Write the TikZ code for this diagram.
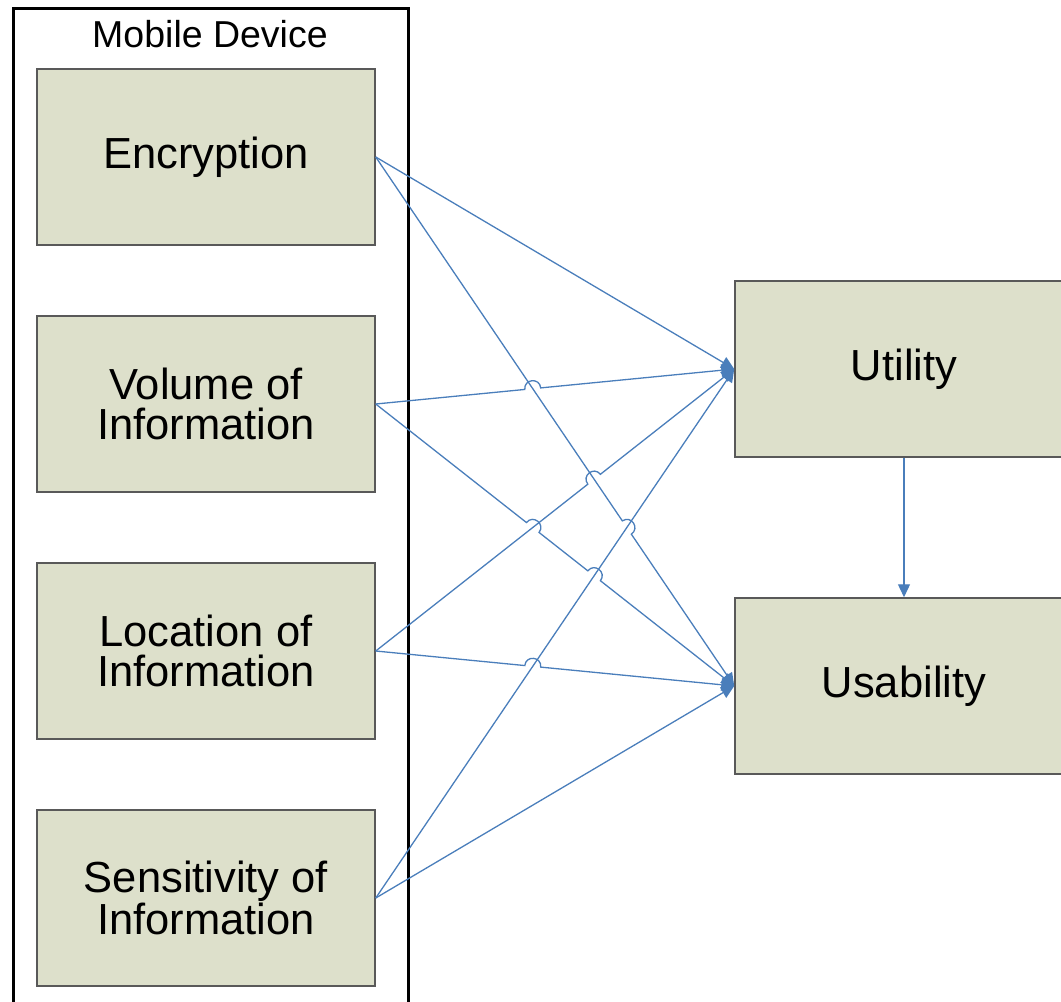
\documentclass[tikz,border=0pt]{standalone}
\usepackage{fontspec}
\setmainfont{Liberation Sans}
\usetikzlibrary{calc,arrows.meta}
\definecolor{boxfill}{RGB}{221,224,203}
\definecolor{connblue}{RGB}{74,126,187}
\newcommand\hopat[3]{%
  \path ($(#1)!8pt!(#2)$) coordinate (#1a) ($(#1)!8pt!(#3)$) coordinate (#1b);
  \path ($(#1a)!10.67pt!90:(#1b)$) coordinate (#1c) ($(#1b)!10.67pt!-90:(#1a)$) coordinate (#1d);
}
\tikzset{
  box/.style={draw=black!65, line width=1.5pt, fill=boxfill, minimum width=338pt, minimum height=176pt,
    inner sep=0pt, align=center, font=\fontsize{43.5}{40}\selectfont},
  conn/.style={draw=connblue, line width=1.3pt, -{Triangle[length=13pt,width=12pt]}},
}
\begin{document}
\begin{tikzpicture}[x=1pt,y=-1pt]
\useasboundingbox (0,0) rectangle (1061,1002);
% container
\draw[line width=3pt] (13,1012) |- (408,8) -- (408,1012);
\node[font=\fontsize{37.5}{40}\selectfont] (title) at (210,34) {Mobile Device};
% boxes
\node[box] (enc) at (206,157) {Encryption};
\node[box] (vol) at (206,404) {Volume of\\Information};
\node[box] (loc) at (206,651) {Location of\\Information};
\node[box] (sen) at (206,898) {Sensitivity of\\Information};
\node[box] (ut) at (904,369) {Utility};
\node[box] (us) at (904,686) {Usability};
% hop centres
\path ($(vol.east)!0.43794!(ut.west)$) coordinate (h1);
\path ($(loc.east)!0.60913!(ut.west)$) coordinate (h2);
\path ($(enc.east)!0.70038!(us.west)$) coordinate (h3);
\path ($(vol.east)!0.43794!(us.west)$) coordinate (h4);
\path ($(vol.east)!0.60913!(us.west)$) coordinate (h5);
\path ($(loc.east)!0.43794!(us.west)$) coordinate (h6);
\hopat{h1}{vol.east}{ut.west}
\hopat{h2}{loc.east}{ut.west}
\hopat{h3}{enc.east}{us.west}
\hopat{h4}{vol.east}{us.west}
\hopat{h5}{vol.east}{us.west}
\hopat{h6}{loc.east}{us.west}
% connectors
\draw[conn] (enc.east) -- (ut.west);
\draw[conn] (enc.east) -- (h3a) .. controls (h3c) and (h3d) .. (h3b) -- (us.west);
\draw[conn] (vol.east) -- (h1a) .. controls (h1c) and (h1d) .. (h1b) -- (ut.west);
\draw[conn] (vol.east) -- (h4a) .. controls (h4c) and (h4d) .. (h4b) -- (h5a) .. controls (h5c) and (h5d) .. (h5b) -- (us.west);
\draw[conn] (loc.east) -- (h2a) .. controls (h2c) and (h2d) .. (h2b) -- (ut.west);
\draw[conn] (loc.east) -- (h6a) .. controls (h6c) and (h6d) .. (h6b) -- (us.west);
\draw[conn] (sen.east) -- (ut.west);
\draw[conn] (sen.east) -- (us.west);
\draw[conn] (ut.south) -- (us.north);
\end{tikzpicture}
\end{document}
